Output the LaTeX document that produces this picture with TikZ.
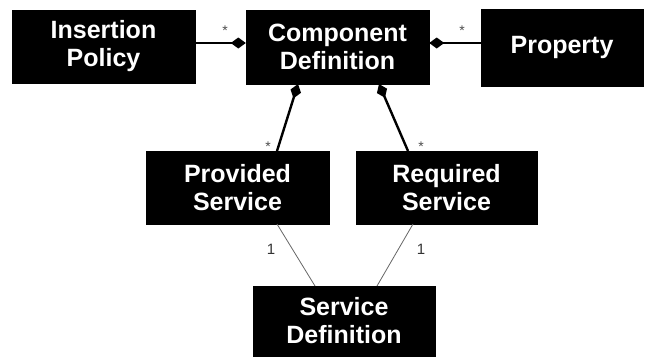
\documentclass[tikz,border=0pt]{standalone}
\usepackage{fontspec}
\setmainfont{Liberation Sans}
\usetikzlibrary{arrows.meta,calc}
\begin{document}
\begin{tikzpicture}[x=1pt,y=-1pt,
  cls/.style={fill=black,draw=black,text=white,inner sep=0pt,align=center,
    font=\fontsize{25}{28}\selectfont\bfseries},
  comp/.style={line width=2.4pt,black,-{Diamond[length=15pt,width=11pt]}},
  assoc/.style={line width=0.8pt,black!60},
  mult/.style={font=\fontsize{14}{14}\selectfont,text=black!70,inner sep=0pt},
  one/.style={font=\fontsize{15}{15}\selectfont,text=black!80,inner sep=0pt}]
\useasboundingbox (0,0) rectangle (652,356);
\node[cls,minimum width=183pt,minimum height=73pt] (ip) at (103.5,46.5) {Insertion\\Policy};
\node[cls,minimum width=183pt,minimum height=74pt] (cd) at (337.5,47) {Component\\Definition};
\node[cls,minimum width=162pt,minimum height=77pt] (pr) at (562,47.5) {Property};
\node[cls,minimum width=183pt,minimum height=73pt] (ps) at (237.5,187.5) {Provided\\Service};
\node[cls,minimum width=181pt,minimum height=73pt] (rs) at (446.5,187.5) {Required\\Service};
\node[cls,minimum width=182pt,minimum height=70pt] (sd) at (344,321) {Service\\Definition};
% attachment points
\coordinate (cdl) at (cd.west |- 0,43);
\coordinate (cdr) at (cd.east |- 0,43);
\coordinate (ipr) at (ip.east |- 0,43);
\coordinate (prl) at (pr.west |- 0,43);
\coordinate (cdb1) at (298,84);
\coordinate (cdb2) at (379,84);
\coordinate (pst) at (277,151);
\coordinate (rst) at (408,151);
\coordinate (psb) at (277,224);
\coordinate (rsb) at (413,224);
\coordinate (sdt1) at (315,286);
\coordinate (sdt2) at (377,286);
\draw[comp] (ipr) -- (cdl);
\draw[comp] (prl) -- (cdr);
\draw[comp] (pst) -- (cdb1);
\draw[comp] (rst) -- (cdb2);
\draw[assoc] (psb) -- (sdt1);
\draw[assoc] (rsb) -- (sdt2);
\node[mult] (s1) at (225,31) {*};
\node[mult] (s2) at (462,31) {*};
\node[mult] (s3) at (268,147) {*};
\node[mult] (s4) at (421,147) {*};
\node[one] (o1) at (271,249) {1};
\node[one] (o2) at (421,249) {1};
\end{tikzpicture}
\end{document}
